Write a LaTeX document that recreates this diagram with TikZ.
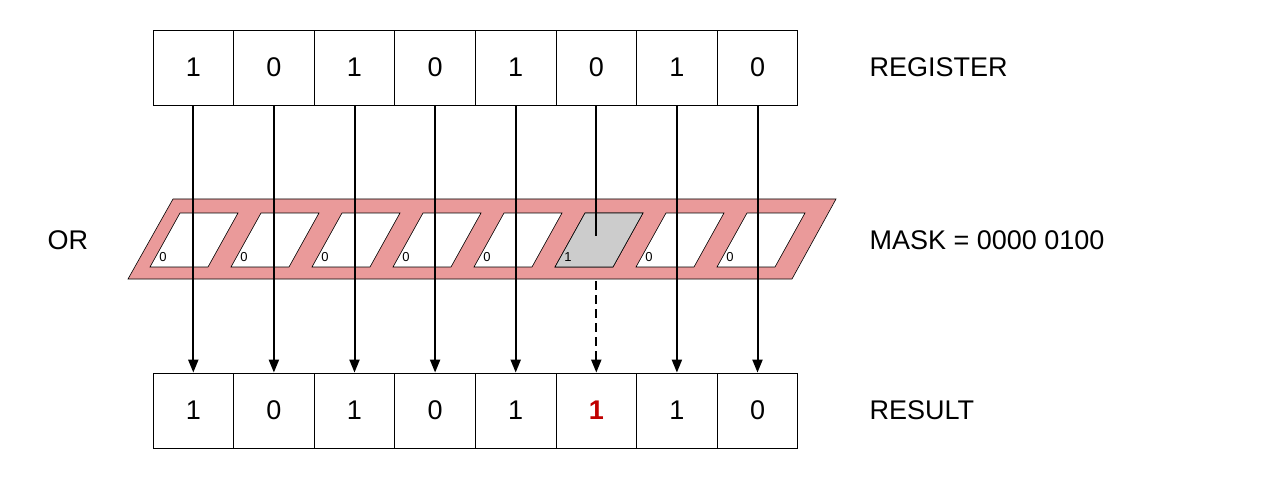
\documentclass[tikz,border=0pt]{standalone}
\usepackage{fontspec}
\setmainfont{Liberation Sans}
\usetikzlibrary{arrows.meta}
\begin{document}
\begin{tikzpicture}[x=1pt,y=-1pt,
  cell/.style={draw,line width=0.8pt,minimum width=80.6pt,minimum height=75pt,inner sep=0pt,font=\fontsize{27}{30}\selectfont},
  lbl/.style={anchor=west,font=\fontsize{27}{30}\selectfont},
  arr/.style={line width=2pt,-{Triangle[length=13pt,width=10pt]}},
  small/.style={font=\fontsize{13}{14}\selectfont,inner sep=0pt}]
\useasboundingbox (0,0) rectangle (1269,481);
% mask
\fill[fill={rgb,255:red,234;green,154;blue,154},draw=black,line width=0.6pt,even odd rule]
  (173,199) -- (836,199) -- (792,279) -- (128,279) -- cycle
  \foreach \k in {0,...,7} { ({180+81*\k},213) -- ({238+81*\k},213) -- ({208+81*\k},267) -- ({150+81*\k},267) -- cycle };
\fill[gray!40,draw=black,line width=0.6pt] (585,213) -- (643,213) -- (613,267) -- (555,267) -- cycle;
\foreach \k/\v in {0/0,1/0,2/0,3/0,4/0,5/1,6/0,7/0}
  \node[small] (m\k) at ({163+81*\k},257) {\v};
\foreach \k/\v in {0/1,1/0,2/1,3/0,4/1,5/0,6/1,7/0}{
  \node[cell] (r\k) at ({193.3+80.6*\k},67.5) {\v};
}
\foreach \k/\v in {0/1,1/0,2/1,3/0,4/1,6/1,7/0}{
  \node[cell] (s\k) at ({193.3+80.6*\k},410.5) {\v};
}
\node[cell,text={rgb,255:red,192;green,0;blue,0},font=\fontsize{27}{30}\selectfont\bfseries] (s5) at ({193.3+80.6*5},410.5) {1};
\foreach \k in {0,1,2,3,4,6,7}
  \draw[arr] (r\k.south) -- (s\k.north);
\draw[line width=2pt] (r5.south) -- (r5.south |- 0,236);
\draw[arr,dashed,dash pattern=on 9pt off 5pt] (r5.south |- 0,281) -- (s5.north);
\node[lbl] (treg) at (866,67.5) {REGISTER};
\node[lbl] (tmask) at (866,240) {MASK = 0000 0100};
\node[lbl] (tres) at (866,410.5) {RESULT};
\node[lbl] (tor) at (44,240) {OR};
\end{tikzpicture}
\end{document}
